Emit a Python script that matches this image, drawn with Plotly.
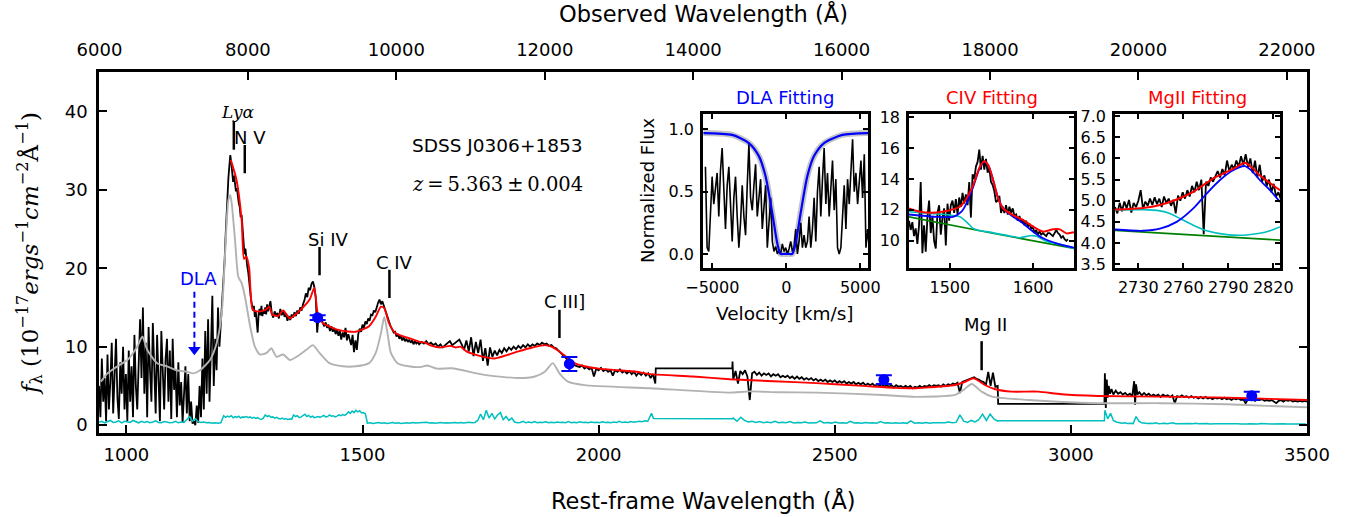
import plotly.graph_objects as go

Z = 5.363

# ---------------- main spectrum (black) ----------------
forest_start, forest_step = 942, 3
forest_flux = [5.0, 1.0, 8.5, 3.0, 6.0, 0.5, 9.0, 2.0, 5.5, 10.5, 1.5, 7.0, 11.0, 3.5, 0.8, 8.0,
               4.0, 10.0, 2.0, 6.5, 0.5, 9.5, 3.0, 7.5, 1.0, 11.5, 5.0, 2.0, 9.0, 13.5, 6.0, 15.0,
               4.0, 10.5, 1.0, 12.5, 7.0, 3.0, 13.0, 8.0, 1.5, 11.5, 5.0, 0.5, 12.0, 6.5, 2.0, 8.5,
               11.0, 3.0, 9.5, 0.8, 11.0, 4.5, 7.0, 1.0, 8.0, 2.5, 5.5, 0.3, 4.0, 7.5, 1.5, 6.5,
               0.5, 3.0, 0.2, 0.5, 0.0, 2.5, 0.3, 5.0, 1.0, 8.5, 2.0, 12.0, 4.0, 13.5, 3.0, 9.0,
               16.5, 5.0, 11.0, 7.0, 15.0, 10.0, 13.0, 16.0]
lya_start, lya_step = 1204, 2
lya_flux = [16.0, 18.5, 21.0, 24.0, 27.0, 29.5, 31.5, 33.0, 34.4, 33.5, 32.0, 31.0, 31.8, 30.5,
            29.8, 30.2, 28.9, 28.3, 27.8, 26.5, 26.8, 25.2, 23.5, 21.8, 22.5, 21.0, 20.2, 19.5,
            18.0, 17.2, 16.0, 15.3, 14.6, 15.2, 13.8, 14.5, 13.5, 11.8, 14.2, 14.8, 14.0, 15.2,
            13.9, 14.6, 14.2, 15.0, 14.1, 15.4, 14.5]
civ_start, civ_step = 1302, 3
civ_flux = [14.9, 15.8, 14.2, 13.7, 14.5, 13.9, 14.3, 13.6, 14.8, 14.0, 14.6, 13.8, 14.2, 13.3,
            13.9, 13.4, 14.1, 13.7, 14.4, 13.9, 14.6, 14.2, 15.0, 14.6, 15.4, 15.9, 16.8, 16.3,
            17.5, 17.2, 18.0, 18.3, 17.6, 16.2, 11.8, 13.9, 13.2, 13.6, 13.0, 12.6, 13.1, 12.4,
            12.8, 12.0, 12.6, 11.9, 12.4, 11.6, 12.2, 11.4, 12.0, 10.9, 11.8, 11.2, 12.4, 10.8,
            11.6, 11.0, 10.2, 11.5, 9.3, 10.8, 9.6, 11.6, 12.3, 11.9, 12.8, 12.4, 13.2, 12.9,
            13.6, 13.3, 14.1, 14.0, 14.6, 14.4, 15.1, 15.6, 16.0, 15.4, 15.8, 15.2, 14.8, 14.2,
            13.5, 13.0, 12.5, 12.2, 11.8, 11.9, 11.3, 11.6, 11.0, 11.4, 10.8, 11.2, 10.7, 11.0,
            10.6, 10.9, 10.5, 10.8, 10.3, 10.7, 10.4, 10.6, 10.3]
ciii_start, ciii_step = 1625, 5
ciii_flux = [10.6, 10.4, 10.7, 10.3, 10.5, 10.2, 10.4, 10.0, 10.3, 9.9, 10.2, 10.5, 10.7, 10.2,
             10.4, 10.6, 10.9, 10.3, 9.6, 10.8, 9.4, 11.2, 8.8, 10.6, 9.2, 10.9, 8.2, 9.8, 7.6,
             9.9, 8.7, 9.5, 8.9, 9.6, 9.2, 9.8, 9.4, 9.9, 9.6, 10.0, 9.7, 10.1, 9.8, 10.2, 9.9,
             10.3, 10.0, 10.3, 10.1, 10.4, 10.2, 10.5, 10.3, 10.4, 10.1, 10.2, 9.9, 9.8, 9.5, 9.1,
             8.8, 8.6, 8.3, 8.0, 7.9, 7.6, 7.5, 7.4, 7.6, 7.2, 7.4, 7.1, 7.3, 6.2, 7.2, 7.0, 7.3,
             6.9, 7.1, 6.8, 7.0, 6.3, 7.0, 6.8, 7.1, 6.7, 6.9, 6.6, 6.9, 6.5, 6.8, 6.3, 6.7, 6.4,
             6.7, 6.3, 6.6, 6.0, 6.5, 5.3]
gap1_wl = [2121, 2283, 2283.5]
gap1_flux = [7.23, 7.23, 8.1]
mid_start, mid_step = 2285, 5
mid_flux = [5.8, 6.9, 5.3, 6.9, 6.5, 7.0, 6.2, 3.2, 6.6, 6.8, 6.4, 6.7, 6.3, 6.6, 6.4, 6.6, 6.2,
            6.5, 6.3, 6.5, 6.1, 6.3, 6.1, 6.3, 6.0, 6.2, 5.9, 6.2, 5.9, 6.1, 5.8, 6.0, 5.8, 6.0,
            5.7, 5.9, 5.6, 5.8, 5.6, 5.8, 5.5, 5.7, 5.5, 5.7, 5.4, 5.6, 5.4, 5.6, 5.3, 5.5, 5.3,
            5.5, 5.2, 5.4, 5.2, 5.4, 5.1, 5.3, 5.1, 5.3, 5.0, 5.2, 5.0, 5.2, 4.9, 5.1, 4.9, 5.1,
            4.8, 5.1, 4.9, 5.0, 4.8, 5.0, 4.8, 5.0, 4.7, 4.9, 4.8, 5.0, 4.8, 5.0, 4.9, 5.1, 4.9,
            5.1, 5.0, 5.1, 4.9, 5.2, 5.0, 5.2, 5.1, 5.3, 5.2, 5.4, 4.1, 5.5, 5.6, 5.7, 5.8, 6.0,
            6.1, 5.9, 5.8, 5.6, 5.5, 5.1, 6.8, 5.0, 6.7, 4.9, 5.0]
gap2_wl = [2846, 3071]
gap2_flux = [2.72, 2.72]
tail1_wl = [3072, 3074, 3076, 3078, 3080, 3083, 3086, 3090, 3095, 3100, 3105, 3110, 3115,
            3120, 3125, 3130, 3134, 3136, 3138, 3141, 3145]
tail1_flux = [6.6, 2.2, 5.8, 3.5, 5.0, 4.0, 4.6, 3.9, 4.4, 4.0, 4.2, 3.9, 4.1, 3.8, 4.0, 3.7,
              5.6, 2.6, 5.2, 3.9, 4.2]
tail2_start, tail2_step = 3150, 5
tail2_flux = [3.8, 4.1, 3.8, 4.0, 3.7, 3.9, 3.7, 3.9, 3.6, 3.9, 3.7, 3.8, 3.6, 3.8, 2.8, 3.7,
              3.6, 3.8, 3.6, 3.7, 3.5, 3.7, 3.5, 3.6, 3.4, 3.6, 3.4, 3.6, 3.4, 3.5, 3.3, 3.5,
              3.4, 3.5, 3.3, 3.5, 3.3, 3.4, 3.2, 3.4, 3.3, 3.4, 3.2, 3.3, 2.8, 3.3, 3.2, 3.3,
              3.1, 3.3, 3.2, 3.3, 3.1, 3.2, 3.1, 3.2, 3.0, 2.8, 3.1, 3.2, 3.0, 3.2, 3.1, 3.2,
              3.0, 3.1, 3.0, 3.1, 3.0, 3.1, 3.0]

# ---------------- composite template (grey) ----------------
tmpl_wl = [946, 960, 981, 1002, 1023, 1034, 1044, 1065, 1086, 1107, 1128, 1142, 1156, 1177,
           1191, 1202, 1209, 1216, 1220, 1223, 1230, 1237, 1244, 1251, 1262, 1272, 1283, 1297,
           1307, 1318, 1332, 1346, 1360, 1381, 1395, 1409, 1430, 1458, 1486, 1514, 1528, 1539,
           1546, 1553, 1560, 1574, 1598, 1622, 1637, 1658, 1689, 1759, 1830, 1865, 1886, 1903,
           1917, 1935, 1970, 2110, 2276, 2320, 2380, 2461, 2601, 2671, 2755, 2773, 2790, 2811,
           2833, 2910, 3058, 3190, 3330, 3414, 3500]
tmpl_flux = [5.55, 6.6, 7.5, 8.3, 10.0, 11.3, 9.6, 7.9, 7.5, 7.0, 6.8, 6.6, 7.0, 8.3, 10.4,
             14.3, 21.9, 28.7, 29.3, 28.3, 23.6, 18.9, 18.1, 16.4, 12.6, 10.0, 9.0, 9.2, 9.8,
             8.7, 9.0, 8.3, 8.7, 9.6, 10.2, 9.2, 7.9, 7.5, 7.5, 7.9, 9.2, 11.7, 13.8, 11.7, 9.2,
             7.9, 7.5, 7.4, 7.6, 7.2, 7.25, 6.4, 6.0, 6.2, 6.8, 7.9, 6.6, 5.55, 5.1, 4.7, 4.15,
             4.3, 4.2, 4.15, 3.85, 3.6, 3.85, 4.5, 5.25, 4.27, 3.64, 3.2, 2.8, 2.8, 2.66, 2.45,
             2.28]

# ---------------- model fit (red) ----------------
fit_wl = [1221, 1233, 1244, 1249, 1254, 1260, 1267, 1276, 1290, 1297, 1302, 1309, 1321, 1332,
          1346, 1360, 1374, 1388, 1398, 1405, 1416, 1451, 1486, 1514, 1528, 1539, 1546, 1556,
          1570, 1598, 1619, 1633, 1647, 1665, 1686, 1697, 1707, 1720, 1750, 1780, 1810, 1830,
          1860, 1886, 1900, 1921, 1949, 1970, 2000, 2040, 2080, 2110, 2200, 2278, 2370, 2461,
          2560, 2629, 2671, 2699, 2730, 2755, 2775, 2794, 2806, 2818, 2840, 2875, 2931, 2980,
          3058, 3190, 3330, 3420, 3500]
fit_flux = [33.8, 31.3, 26.2, 21.2, 21.5, 20.0, 14.8, 14.5, 14.6, 14.8, 15.1, 14.1, 13.9, 14.6,
            13.6, 14.2, 15.0, 16.0, 17.5, 14.3, 13.0, 12.1, 11.9, 12.6, 13.8, 15.1, 14.9, 13.0,
            11.7, 11.1, 10.65, 10.5, 10.1, 9.9, 10.1, 9.9, 10.0, 9.4, 8.8, 8.5, 9.0, 9.4, 9.9,
            10.2, 10.0, 9.2, 7.9, 7.5, 7.2, 7.0, 6.8, 6.5, 6.2, 5.85, 5.6, 5.35, 5.0, 4.75, 4.7,
            4.83, 4.95, 5.12, 5.5, 5.97, 5.6, 5.12, 4.57, 4.27, 4.27, 3.93, 3.72, 3.63, 3.51,
            3.35, 3.2]

# ---------------- error spectrum (cyan) ----------------
err_a_start, err_a_step = 942, 6
err_a = [0.35, 0.5, 0.3, 0.45, 0.6, 0.35, 0.4, 0.55, 0.3, 0.5, 0.45, 0.35, 0.6, 0.4, 0.3, 0.5,
         0.35, 0.45, 0.3, 0.4, 0.55, 0.35, 0.3, 0.45, 0.4, 0.3, 0.35, 0.5, 0.3, 0.4, 0.35, 0.7,
         1.1, 0.5, 0.8, 0.45, 0.35, 0.4, 0.3, 0.35, 0.25, 0.3, 0.25, 0.3]
err_b_start, err_b_step = 1206, 4
err_b = [1.2, 1.0, 1.15, 1.05, 1.2, 0.95, 1.1, 1.0, 1.15, 0.9, 1.05, 1.0, 1.1, 0.95, 1.05, 0.9,
         1.0, 0.85, 0.95, 0.8, 0.75, 0.9, 1.3, 1.1, 1.2, 1.0, 1.05, 0.9, 1.0, 0.85, 0.8, 0.9,
         0.75, 0.85, 0.7, 0.8, 0.75, 1.3, 1.1, 1.2, 0.95, 1.05, 1.2, 1.4, 1.1, 1.25, 1.0, 1.15,
         0.95, 1.05, 1.1, 1.0, 1.15, 1.25, 1.05, 1.1, 1.3, 1.15, 1.2, 1.05, 1.15, 1.3, 1.2,
         1.35, 1.25, 1.4, 1.7, 1.5, 1.8, 1.6, 1.9, 1.7, 1.85, 1.55, 1.6, 1.45, 0.4]
err_c_start, err_c_step = 1510, 6
err_c = [0.25, 0.3, 0.22, 0.28, 0.35, 0.25, 0.3, 0.2, 0.28, 0.33, 0.25, 0.3, 0.22, 0.27, 0.32,
         0.25, 0.35, 0.28, 0.3, 0.24, 0.3, 0.36, 0.27, 0.31, 0.25, 0.3, 0.34, 0.28, 0.32, 0.26,
         0.3, 0.35, 0.29, 0.33, 0.27, 0.31, 0.36, 0.3, 0.34,
         0.6, 1.4, 0.7, 1.9, 0.9, 1.5, 0.8, 1.3, 1.6, 0.7, 1.1, 0.6, 0.9,
         0.4, 0.3, 0.35, 0.5, 0.3, 0.4, 0.32, 0.45, 0.3, 0.38, 0.33, 0.42, 0.3, 0.36, 0.3, 0.4,
         0.33, 0.38, 0.3, 0.45, 0.32, 0.37, 0.3, 0.42, 0.33, 0.36, 0.3, 0.4, 0.34, 0.38, 0.3,
         0.43, 0.33, 0.37, 0.3, 0.4, 0.35, 0.5, 0.33, 0.4, 0.35, 0.45, 0.38, 0.42, 0.5, 0.45,
         0.55, 0.5]
err_gap1_wl = [2112, 2116, 2283]
err_gap1 = [1.5, 0.85, 0.8]
err_d_start, err_d_step = 2285, 8
err_d = [0.9, 0.5, 1.0, 0.6, 0.4, 0.5, 0.35, 0.45, 0.3, 0.4, 0.32, 0.5, 0.3, 0.38, 0.3, 0.45,
         0.28, 0.35, 0.3, 0.4, 0.27, 0.33, 0.3, 0.55, 0.28, 0.33, 0.26, 0.4, 0.28, 0.32, 0.25,
         0.5, 0.27, 0.3, 0.25, 0.35, 0.26, 0.3, 0.24, 0.45, 0.26, 0.3, 0.24, 0.32, 0.25, 0.3,
         0.23, 0.55, 0.25, 0.3, 0.23, 0.35, 0.25, 0.3, 0.3, 0.35, 0.3, 0.4, 0.3, 0.35, 1.3, 0.5,
         0.35, 0.6, 0.4, 0.7, 1.4, 0.6, 1.4, 0.8, 0.5]
err_gap2_wl = [2847, 3071]
err_gap2 = [0.55, 0.55]
err_e_start, err_e_step = 3072, 6
err_e = [1.9, 0.8, 1.5, 0.6, 0.4, 0.3, 0.25, 0.3, 0.22, 0.25, 0.2, 1.1, 0.5, 0.3, 0.22, 0.2,
         0.25, 0.2, 0.3, 0.18, 0.2, 0.25, 0.18, 0.2, 0.3, 0.18, 0.2, 0.17, 0.22, 0.18, 0.2, 0.17,
         0.25, 0.18, 0.2, 0.17, 0.2, 0.16, 0.2, 0.18, 0.17, 0.2, 0.16, 0.18, 0.17, 0.2, 0.16,
         0.18, 0.15, 0.2, 0.16, 0.17, 0.15, 0.18, 0.16, 0.2, 0.15, 0.17, 0.16, 0.18, 0.15, 0.17,
         0.15, 0.18, 0.16, 0.15, 0.17, 0.15, 0.16, 0.15, 0.17, 0.15]

# ---------------- photometry (blue) ----------------
phot_wl = [1405, 1938, 2604, 3383]
phot_flux = [13.7, 7.8, 5.8, 3.74]
phot_err = [0.3, 0.9, 0.57, 0.53]

# ---------------- emission-line labels ----------------
line_names = ["<i>Lyα</i>", "N V", "Si IV", "C IV", "C III]", "Mg II"]
line_wl = [1227.5, 1250.7, 1409, 1557, 1917, 2811]
line_lo = [35.1, 32.1, 19.1, 16.2, 11.1, 7.0]
line_hi = [38.7, 35.7, 22.7, 19.8, 14.7, 10.7]
label_wl = [1236, 1262, 1426, 1567, 1928, 2820]
label_y = [39.9, 36.7, 23.7, 20.7, 15.7, 12.8]
dla_wl = 1144
dla_arrow = [17.0, 9.6]

# ---------------- DLA inset ----------------
dla_v_start, dla_v_step = -5466, 113
dla_flux = [0.70, 0.05, 0.02, 0.35, 0.62, 0.40, 0.55, 0.65, 0.30, 0.67, 0.85, 0.45, 0.20, 0.55,
            0.70, 0.40, 0.10, 0.45, 0.62, 0.30, 0.05, 0.25, 0.55, 0.30, 0.15, 0.55, 0.88, 0.45,
            0.35, 0.55, 0.72, 0.30, 0.45, 0.60, 0.20, 0.35, 0.55, 0.05, 0.25, 0.45, 0.10, 0.02,
            0.06, 0.00, 0.03, 0.00, 0.08, 0.02, 0.05, 0.00, 0.04, 0.10, 0.02, 0.05, 0.20, 0.00,
            0.10, 0.25, 0.05, 0.15, 0.05, 0.10, 0.30, 0.05, 0.20, 0.45, 0.10, 0.50, 0.70, 0.30,
            0.60, 0.85, 0.40, 0.65, 0.30, 0.50, 0.75, 0.35, 0.60, 0.05, 0.00, 0.05, 0.35, 0.55,
            0.20, 0.60, 0.40, 0.70, 0.92, 0.50, 0.65, 0.40, 0.55, 0.75, 0.45, 0.80, 0.05, 0.20,
            0.05]
dla_model_v = [-5600, -3660, -2531, -1854, -1402, -950, -612, -386, -150, 150, 404, 630, 969,
               1420, 1872, 2550, 3791, 5550]
dla_model_f = [0.97, 0.955, 0.89, 0.785, 0.623, 0.328, 0.086, 0.0, 0.0, 0.0, 0.0, 0.086, 0.328,
               0.623, 0.785, 0.89, 0.955, 0.97]

# ---------------- CIV inset ----------------
civ_in_start, civ_in_step = 1451, 2.008
civ_in_flux = [11.3, 10.7, 11.2, 10.3, 10.8, 9.8, 11.0, 13.8, 9.2, 11.0, 9.3, 11.5, 12.6, 10.5,
               11.6, 10.0, 9.5, 11.8, 12.3, 10.4, 11.5, 12.1, 9.7, 12.4, 11.3, 12.3, 12.6, 11.8,
               12.7, 11.7, 12.8, 12.2, 13.1, 12.4, 13.0, 12.3, 13.8, 11.5, 14.3, 14.0, 14.8,
               15.1, 15.9, 14.6, 15.5, 14.6, 15.3, 14.4, 14.7, 13.8, 13.6, 13.2, 12.5, 12.6,
               12.9, 11.8, 12.2, 11.8, 12.3, 11.7, 12.2, 11.8, 12.1, 11.6, 11.7, 11.3, 11.6,
               11.2, 11.4, 11.0, 11.3, 10.9, 11.1, 10.8, 10.9, 10.5, 10.7, 10.4, 10.6, 10.4,
               10.5, 10.4, 10.3, 10.5, 10.5, 10.4, 10.3, 10.5, 10.7, 10.5, 10.4, 10.2, 10.3,
               10.1, 10.0, 10.1]
civ_tot_wl = [1451, 1464, 1484, 1500, 1512, 1520, 1528, 1536, 1541, 1546, 1552, 1558, 1564,
              1576, 1588, 1600, 1612, 1624, 1632, 1640, 1649]
civ_tot = [12.09, 11.88, 11.83, 11.98, 12.2, 12.74, 13.6, 14.78, 15.15, 14.9, 13.92, 12.74,
           12.09, 11.66, 11.34, 10.91, 10.59, 10.74, 10.74, 10.48, 10.55]
civ_br_wl = [1451, 1484, 1504, 1514, 1520, 1528, 1536, 1541, 1546, 1552, 1558, 1564, 1576,
             1588, 1600, 1612, 1628, 1649]
civ_br = [11.7, 11.55, 11.55, 11.88, 12.42, 13.49, 14.74, 15.1, 14.9, 13.92, 12.74, 12.09,
          11.56, 11.12, 10.59, 10.16, 9.83, 9.55]
civ_oth_wl = [1451, 1476, 1500, 1512, 1520, 1528, 1536, 1544, 1572, 1584, 1596, 1604, 1616,
              1630, 1649]
civ_oth = [11.88, 11.77, 11.66, 11.55, 11.23, 10.8, 10.65, 10.59, 10.31, 10.2, 10.33, 10.3,
           9.95, 9.8, 9.5]
civ_cont_wl = [1451, 1550, 1649]
civ_cont = [11.55, 10.5, 9.51]

# ---------------- MgII inset ----------------
mg_in_start, mg_in_step = 2714.5, 1.556
mg_in_flux = [4.85, 4.70, 4.95, 4.75, 4.98, 4.82, 5.02, 4.72, 4.95, 4.85, 5.00, 5.25, 4.80, 4.98,
              4.88, 5.05, 4.90, 5.08, 4.92, 5.05, 4.85, 5.10, 4.95, 5.05, 4.88, 5.02, 4.70, 5.12,
              5.00, 5.20, 5.05, 5.25, 5.10, 5.35, 5.20, 5.45, 5.25, 5.50, 4.21, 5.45, 5.35, 5.55,
              5.45, 5.60, 5.70, 5.55, 5.75, 5.60, 5.95, 5.70, 5.85, 5.75, 5.95, 5.80, 6.05, 5.85,
              6.10, 5.80, 6.00, 5.65, 5.95, 5.55, 5.85, 5.45, 5.60, 5.35, 5.50, 5.20, 5.40, 5.10,
              5.20, 5.05]
mg_tot_wl = [2714.5, 2733, 2744.5, 2755.6, 2766.7, 2773.4, 2780, 2789, 2795.6, 2801, 2805.6,
             2811, 2817.8, 2824.5]
mg_tot = [4.79, 4.83, 4.9, 5.03, 5.21, 5.37, 5.53, 5.68, 5.8, 5.9, 5.79, 5.6, 5.42, 5.25]
mg_br_wl = [2714.5, 2733, 2744.5, 2755.6, 2766.7, 2775.6, 2784.5, 2793.3, 2801, 2805.6, 2811,
            2817.8, 2824.5]
mg_br = [4.32, 4.29, 4.34, 4.5, 4.82, 5.17, 5.49, 5.72, 5.82, 5.71, 5.49, 5.25, 4.97]
mg_oth_wl = [2714.5, 2733, 2744.5, 2751, 2757.8, 2766.7, 2775.6, 2789, 2802, 2811, 2817.8,
             2824.5]
mg_oth = [4.78, 4.79, 4.76, 4.7, 4.58, 4.42, 4.29, 4.2, 4.19, 4.23, 4.29, 4.38]
mg_cont_wl = [2714.5, 2824.5]
mg_cont = [4.3, 4.07]


def grid(start, step, vals):
    return [start + step * i for i in range(len(vals))]


BLACK = "#000000"
GREY = "#b2b2b2"
RED = "#ff0000"
BLUE = "#0000ff"
CYAN = "#00bfbf"
GREEN = "#008000"
FONT = "DejaVu Sans"
SERIF = "DejaVu Serif"

spec_wl = (grid(forest_start, forest_step, forest_flux) + grid(lya_start, lya_step, lya_flux)
           + grid(civ_start, civ_step, civ_flux) + grid(ciii_start, ciii_step, ciii_flux)
           + gap1_wl + grid(mid_start, mid_step, mid_flux) + gap2_wl + tail1_wl
           + grid(tail2_start, tail2_step, tail2_flux))
spec_flux = (forest_flux + lya_flux + civ_flux + ciii_flux + gap1_flux + mid_flux + gap2_flux
             + tail1_flux + tail2_flux)
err_wl = (grid(err_a_start, err_a_step, err_a) + grid(err_b_start, err_b_step, err_b)
          + grid(err_c_start, err_c_step, err_c) + err_gap1_wl
          + grid(err_d_start, err_d_step, err_d) + err_gap2_wl
          + grid(err_e_start, err_e_step, err_e))
err_flux = err_a + err_b + err_c + err_gap1 + err_d + err_gap2 + err_e

fig = go.Figure()
fig.add_trace(go.Scatter(x=spec_wl, y=spec_flux, mode="lines", line=dict(color=BLACK, width=1.8)))
fig.add_trace(go.Scatter(x=tmpl_wl, y=tmpl_flux, mode="lines",
                         line=dict(color=GREY, width=1.9, shape="spline", smoothing=0.6)))
fig.add_trace(go.Scatter(x=err_wl, y=err_flux, mode="lines", line=dict(color=CYAN, width=1.5)))
fig.add_trace(go.Scatter(x=fit_wl, y=fit_flux, mode="lines",
                         line=dict(color=RED, width=1.9, shape="spline", smoothing=0.6)))
fig.add_trace(go.Scatter(x=phot_wl, y=phot_flux, mode="markers",
                         marker=dict(color=BLUE, size=11, symbol="circle"),
                         error_y=dict(type="data", array=phot_err, color=BLUE, thickness=2, width=8)))
# same photometry on the observed-frame axis (invisible) so the top axis is drawn
fig.add_trace(go.Scatter(x=[w * (1 + Z) for w in phot_wl], y=phot_flux, xaxis="x2", yaxis="y",
                         mode="markers", marker=dict(opacity=0), hoverinfo="skip"))
# DLA arrow
fig.add_trace(go.Scatter(x=[dla_wl, dla_wl], y=dla_arrow, mode="lines",
                         line=dict(color=BLUE, width=2, dash="6px,4px")))
fig.add_trace(go.Scatter(x=[dla_wl], y=[dla_arrow[1]], mode="markers",
                         marker=dict(color=BLUE, size=11, symbol="triangle-down")))
# emission line ticks
for w, lo, hi in zip(line_wl, line_lo, line_hi):
    fig.add_trace(go.Scatter(x=[w, w], y=[lo, hi], mode="lines", line=dict(color=BLACK, width=2.5)))

# ---- DLA inset ----
fig.add_trace(go.Scatter(x=dla_model_v, y=dla_model_f, xaxis="x3", yaxis="y3", mode="lines",
                         line=dict(color="rgba(150,150,150,0.55)", width=6, shape="spline", smoothing=0.7)))
fig.add_trace(go.Scatter(x=grid(dla_v_start, dla_v_step, dla_flux), y=dla_flux, xaxis="x3",
                         yaxis="y3", mode="lines", line=dict(color=BLACK, width=1.6)))
fig.add_trace(go.Scatter(x=dla_model_v, y=dla_model_f, xaxis="x3", yaxis="y3", mode="lines",
                         line=dict(color=BLUE, width=2.2, shape="spline", smoothing=0.7)))
# ---- CIV inset ----
fig.add_trace(go.Scatter(x=grid(civ_in_start, civ_in_step, civ_in_flux), y=civ_in_flux,
                         xaxis="x4", yaxis="y4", mode="lines", line=dict(color=BLACK, width=1.8)))
fig.add_trace(go.Scatter(x=civ_cont_wl, y=civ_cont, xaxis="x4", yaxis="y4", mode="lines",
                         line=dict(color=GREEN, width=1.6, shape="spline")))
fig.add_trace(go.Scatter(x=civ_oth_wl, y=civ_oth, xaxis="x4", yaxis="y4", mode="lines",
                         line=dict(color=CYAN, width=1.6, shape="spline", smoothing=0.7)))
fig.add_trace(go.Scatter(x=civ_br_wl, y=civ_br, xaxis="x4", yaxis="y4", mode="lines",
                         line=dict(color=BLUE, width=1.8, shape="spline", smoothing=0.7)))
fig.add_trace(go.Scatter(x=civ_tot_wl, y=civ_tot, xaxis="x4", yaxis="y4", mode="lines",
                         line=dict(color=RED, width=2, shape="spline", smoothing=0.7)))
# ---- MgII inset ----
fig.add_trace(go.Scatter(x=grid(mg_in_start, mg_in_step, mg_in_flux), y=mg_in_flux,
                         xaxis="x5", yaxis="y5", mode="lines", line=dict(color=BLACK, width=1.8)))
fig.add_trace(go.Scatter(x=mg_cont_wl, y=mg_cont, xaxis="x5", yaxis="y5", mode="lines",
                         line=dict(color=GREEN, width=1.6)))
fig.add_trace(go.Scatter(x=mg_oth_wl, y=mg_oth, xaxis="x5", yaxis="y5", mode="lines",
                         line=dict(color=CYAN, width=1.6, shape="spline", smoothing=0.7)))
fig.add_trace(go.Scatter(x=mg_br_wl, y=mg_br, xaxis="x5", yaxis="y5", mode="lines",
                         line=dict(color=BLUE, width=1.8, shape="spline", smoothing=0.7)))
fig.add_trace(go.Scatter(x=mg_tot_wl, y=mg_tot, xaxis="x5", yaxis="y5", mode="lines",
                         line=dict(color=RED, width=2, shape="spline", smoothing=0.7)))

# ---------------- layout ----------------
W, H = 1359, 517
ML, MR, MT, MB = 99, 52, 72, 84
PW, PH = W - ML - MR, H - MT - MB


def px(x):
    return (x - ML) / PW


def py(y):
    return (H - MB - y) / PH


XR = [942, 3500]
tick = dict(ticks="inside", showline=True, linecolor=BLACK, linewidth=2.6, showgrid=False,
            zeroline=False, tickcolor=BLACK, tickfont=dict(family=FONT, size=18, color=BLACK))
inset = dict(ticks="inside", ticklen=5, tickwidth=1.5, showline=True, linecolor=BLACK,
             linewidth=2.6, showgrid=False, zeroline=False, mirror="ticks", tickcolor=BLACK,
             tickfont=dict(family=FONT, size=16, color=BLACK))

dla_dom = [px(703), px(868)]
civ_dom = [px(909), px(1074)]
mg_dom = [px(1115), px(1280)]
in_ydom = [py(268), py(114)]

fig.update_layout(
    width=W, height=H, showlegend=False,
    margin=dict(l=ML, r=MR, t=MT, b=MB, pad=0),
    paper_bgcolor="white", plot_bgcolor="white",
    font=dict(family=FONT, color=BLACK),
    xaxis=dict(range=XR, domain=[0, 1], anchor="y", tickvals=[1000, 1500, 2000, 2500, 3000, 3500],
               ticklen=8, tickwidth=1.6, ticklabelstandoff=4, **tick),
    xaxis2=dict(range=[XR[0] * (1 + Z), XR[1] * (1 + Z)], overlaying="x", side="top", anchor="y",
                tickvals=[6000, 8000, 10000, 12000, 14000, 16000, 18000, 20000, 22000],
                tickformat="d", ticklen=8, tickwidth=1.6, ticklabelstandoff=6, **tick),
    yaxis=dict(range=[-1, 45], domain=[0, 1], anchor="x", tickvals=[0, 10, 20, 30, 40],
               ticklen=8, tickwidth=1.6, mirror="ticks", ticklabelstandoff=5, **tick),
    xaxis3=dict(domain=dla_dom, anchor="y3", range=[-5630, 5520], tickvals=[-5000, 0, 5000],
                ticklabelstandoff=3, **inset),
    yaxis3=dict(domain=in_ydom, anchor="x3", range=[-0.113, 1.123], tickvals=[0, 0.5, 1.0],
                tickformat=".1f", ticklabelstandoff=3, **inset),
    xaxis4=dict(domain=civ_dom, anchor="y4", range=[1451, 1649], tickvals=[1500, 1600],
                ticklabelstandoff=3, **inset),
    yaxis4=dict(domain=in_ydom, anchor="x4", range=[8.24, 18.2], tickvals=[10, 12, 14, 16, 18],
                ticklabelstandoff=3, **inset),
    xaxis5=dict(domain=mg_dom, anchor="y5", range=[2714.5, 2824.5],
                tickvals=[2730, 2760, 2790, 2820], ticklabelstandoff=3, **inset),
    yaxis5=dict(domain=in_ydom, anchor="x5", range=[3.41, 7.05],
                tickvals=[3.5, 4.0, 4.5, 5.0, 5.5, 6.0, 6.5, 7.0], tickformat=".1f",
                ticklabelstandoff=3, **inset),
)

for ax in ["x3", "x4", "x5"]:
    yax = "y" + ax[1:]
    fig.add_shape(type="rect", xref=f"{ax} domain", yref=f"{yax} domain", x0=0, x1=1, y0=0,
                  y1=1, fillcolor="#e5e5e5", line=dict(width=0), layer="below")

C = dict(xanchor="center", yanchor="middle", showarrow=False)
ann = []
for name, w, yv in zip(line_names, label_wl, label_y):
    if "Ly" in name:
        fnt = dict(family=SERIF, size=17, color=BLACK)
    else:
        fnt = dict(family=FONT, size=18, color=BLACK)
    ann.append(dict(x=w, y=yv, xref="x", yref="y", text=name, font=fnt, **C))
ann.append(dict(x=1152, y=18.7, xref="x", yref="y", text="DLA",
                font=dict(family=FONT, size=18, color=BLUE), **C))
ann.append(dict(x=px(410), y=py(145), xref="paper", yref="paper", text="SDSS J0306+1853",
                xanchor="left", yanchor="middle", showarrow=False,
                font=dict(family=FONT, size=18.5, color=BLACK)))
ann.append(dict(x=px(410), y=py(184), xref="paper", yref="paper",
                text="<i>z</i>\u2009=\u20095.363\u2009±\u20090.004",
                xanchor="left", yanchor="middle", showarrow=False,
                font=dict(family=SERIF, size=19.5, color=BLACK)))
ann.append(dict(x=px(703), y=py(500), xref="paper", yref="paper",
                text="Rest-frame Wavelength (Å)",
                font=dict(family=FONT, size=22.5, color=BLACK), **C))
ann.append(dict(x=px(703), y=py(14), xref="paper", yref="paper",
                text="Observed Wavelength (Å)",
                font=dict(family=FONT, size=22.5, color=BLACK), **C))
ann.append(dict(x=px(29), y=py(254), xref="paper", yref="paper", textangle=-90,
                text="<i>f</i><sub>λ</sub> (10<sup>−17</sup><i>ergs</i><sup>−1</sup><i>cm</i><sup>−2</sup>Å<sup>−1</sup>)",
                font=dict(family=SERIF, size=23, color=BLACK), **C))
# inset titles / labels
ann.append(dict(x=px(785), y=py(97), xref="paper", yref="paper", text="DLA Fitting",
                font=dict(family=FONT, size=18, color=BLUE), **C))
ann.append(dict(x=px(992), y=py(97), xref="paper", yref="paper", text="CIV Fitting",
                font=dict(family=FONT, size=18, color=RED), **C))
ann.append(dict(x=px(1197), y=py(97), xref="paper", yref="paper", text="MgII Fitting",
                font=dict(family=FONT, size=18, color=RED), **C))
ann.append(dict(x=px(647), y=py(190), xref="paper", yref="paper", text="Normalized Flux",
                textangle=-90, font=dict(family=FONT, size=18, color=BLACK), **C))
ann.append(dict(x=px(785), y=py(313), xref="paper", yref="paper", text="Velocity [km/s]",
                font=dict(family=FONT, size=18.5, color=BLACK), **C))
fig.update_layout(annotations=ann)

fig.write_html("out.html", config={"displayModeBar": False},
               post_script="document.body.style.margin='0';document.body.style.overflow='hidden';")
